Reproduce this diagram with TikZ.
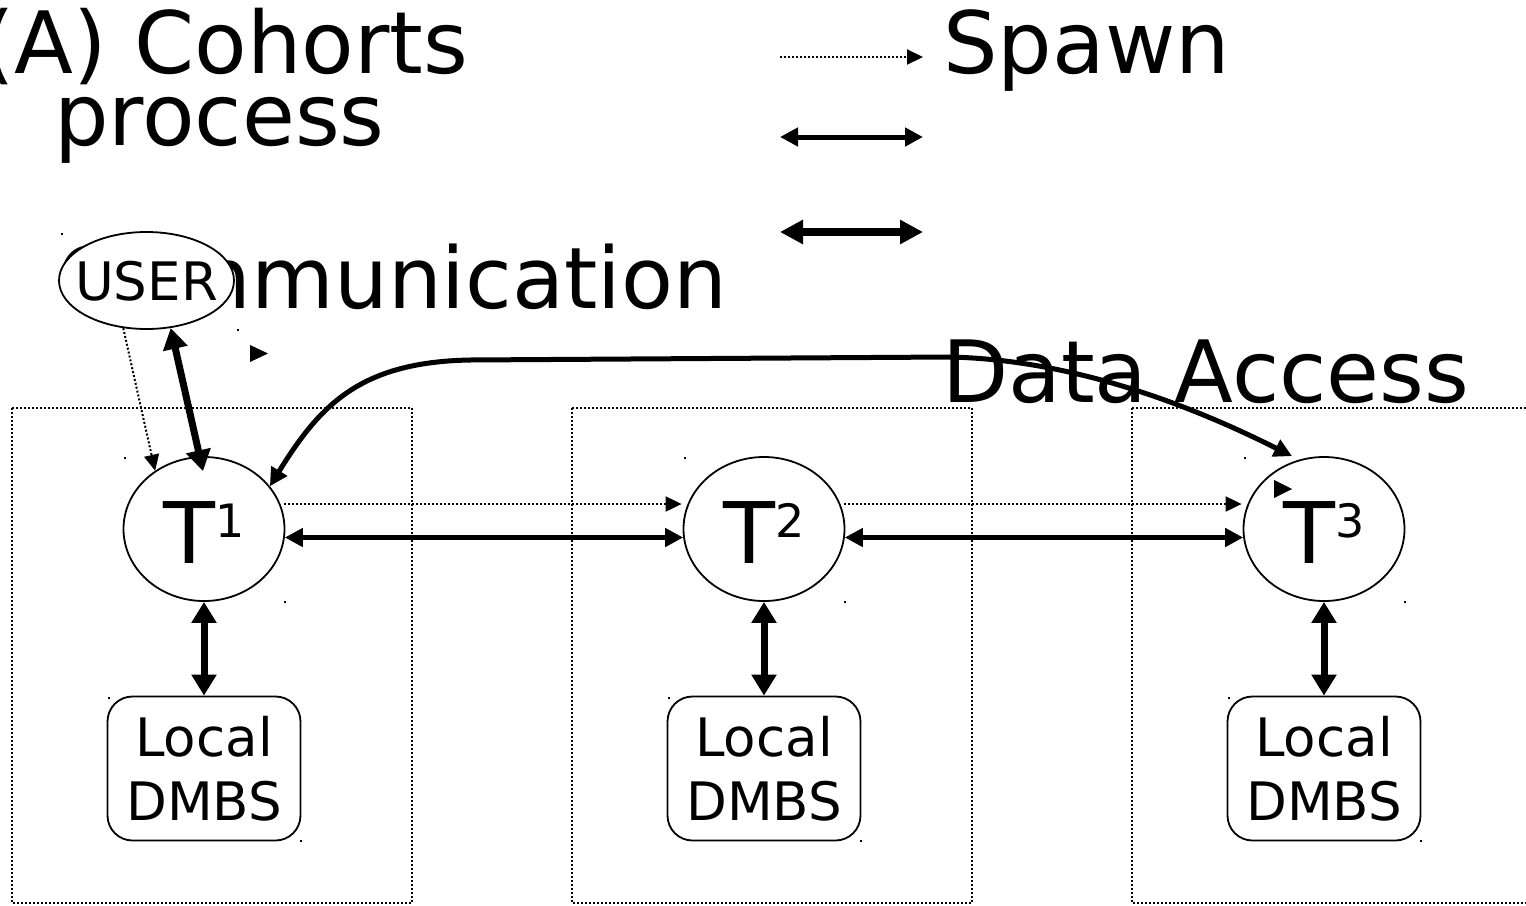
\documentclass[tikz,border=0pt]{standalone}
\usepackage{fontspec}
\setmainfont{DejaVu Sans}
\usetikzlibrary{arrows.meta,calc,shapes.geometric}
\begin{document}
\begin{tikzpicture}[x=1pt,y=-1pt,
  big/.style={font=\fontsize{86}{86}\selectfont, inner sep=0pt, anchor=base west},
  tnode/.style={draw, line width=1.8pt, ellipse, minimum width=161pt, minimum height=144pt,
    inner sep=0pt, text height=68pt, text depth=0pt, font=\fontsize{85}{85}\selectfont},
  usernode/.style={draw, line width=1.8pt, ellipse, fill=white, minimum width=175pt,
    minimum height=97pt, inner sep=0pt, text height=0pt, text depth=0pt, font=\fontsize{53}{53}\selectfont},
  dbbox/.style={draw, line width=1.8pt, rounded corners=25pt, minimum width=193pt,
    minimum height=144pt, inner sep=0pt, align=center, font=\fontsize{53}{64}\selectfont},
  region/.style={line width=2pt, dash pattern=on 2pt off 2pt},
  spawn/.style={line width=2pt, dash pattern=on 2pt off 2pt, -{Triangle[length=16pt,width=15pt]}},
  comm/.style={line width=5pt, {Triangle[length=18pt,width=18pt]}-{Triangle[length=18pt,width=18pt]}},
  data/.style={line width=7pt, {Triangle[length=21pt,width=24pt]}-{Triangle[length=21pt,width=24pt]}},
  speck/.style={fill=black},
]
\useasboundingbox (0,0) rectangle (1526,905);

% titles
\node[big] (title1) at (-19,73) {(A) Cohorts};
\node[big] (title2) at (54,145) {process};
\node[big] (spawnlbl) at (943,73) {Spawn};
\node[big, font=\fontsize{85}{85}\selectfont] (commlbl) at (57,308) {Communication};
\node[big] (datalbl) at (942,402) {Data Access};

% legend
\coordinate (la1) at (780,57);  \coordinate (lb1) at (923,57);
\coordinate (la2) at (780,137); \coordinate (lb2) at (923,137);
\coordinate (la3) at (780,232); \coordinate (lb3) at (923,232);
\draw[spawn] (la1) -- (lb1);
\draw[comm] (la2) -- (lb2);
\draw[line width=8pt, {Triangle[length=23pt,width=23pt]}-{Triangle[length=23pt,width=23pt]}] (la3) -- (lb3);

% regions
\draw[region] (12,408) rectangle (412,903);
\draw[region] (572,408) rectangle (972,903);
\draw[region] (1132,408) rectangle (1540,903);

% user
\node[usernode] (U) at (146.5,280.5) {\makebox[0pt]{\raisebox{-20pt}[0pt][0pt]{USER}}};

% processes
\node[tnode] (T1) at (204,529) {T\raisebox{26pt}{\fontsize{46}{46}\selectfont 1}};
\node[tnode] (T2) at (764,529) {T\raisebox{26pt}{\fontsize{46}{46}\selectfont 2}};
\node[tnode] (T3) at (1324,529) {T\raisebox{26pt}{\fontsize{46}{46}\selectfont 3}};

% databases
\node[dbbox] (D1) at (204,768.5) {Local\\DMBS};
\node[dbbox] (D2) at (764,768.5) {Local\\DMBS};
\node[dbbox] (D3) at (1324,768.5) {Local\\DMBS};

% data access to local DB
\draw[data] (T1.south) -- (D1.north);
\draw[data] (T2.south) -- (D2.north);
\draw[data] (T3.south) -- (D3.north);

% spawn between processes
\draw[spawn] ($(T1.east)+(-1,-25)$) -- ($(T2.west)+(-1,-25)$);
\draw[spawn] ($(T2.east)+(-1,-25)$) -- ($(T3.west)+(-1,-25)$);

% communication between processes
\draw[comm] (T1.-6) -- (T2.186);
\draw[comm] (T2.-6) -- (T3.186);

% user arrows
\draw[spawn] (U.-116) -- (T1.130);
\draw[data] (U.-63) -- ($(T1.north)+(-1,15)$);

% long communication curve
\draw[comm] (T1.33) .. controls (320,405) and (360,362) .. (470,360)
  -- (950,357) .. controls (1080,360) and (1200,410) .. ($(T3.north)+(-32,0)$);

% stray arrowheads
\fill (250,345) -- (268,353.5) -- (250,362) -- cycle;
\fill (1274,480) -- (1292,489) -- (1274,498) -- cycle;

% specks
\foreach \p in {(61,233),(237,329),(124,457),(284,601),(684,457),(844,601),(1244,457),(1404,601),
  (108,697),(300,840),(668,697),(860,840),(1228,697),(1420,840)}
  \fill[speck] \p rectangle ++(1.5,1.5);
\end{tikzpicture}
\end{document}
